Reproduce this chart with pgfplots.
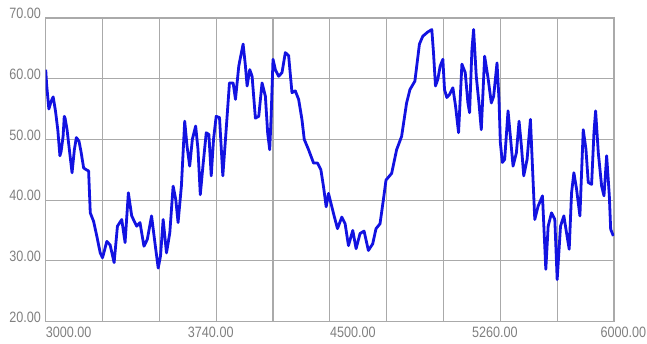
\documentclass[border=0pt]{standalone}
\usepackage{pgfplots}
\pgfplotsset{compat=1.18}
\usepackage{fontspec}
\setmainfont{Liberation Sans}[FakeStretch=0.84]
\definecolor{lineblue}{RGB}{18,18,225}
\definecolor{gridgray}{RGB}{170,170,170}
\definecolor{labgray}{RGB}{128,128,128}
\begin{document}
\begin{tikzpicture}
\begin{axis}[
  at={(0,0)}, anchor=south west,
  scale only axis, width=568.3pt, height=303.5pt,
  xmin=3000, xmax=6000, ymin=20, ymax=70,
  xtick={3000,3300,3600,3900,4200,4500,4800,5100,5400,5700,6000},
  xticklabels={},
  extra x ticks={3000,3750,4500,5250,6000},
  extra x tick labels={3000.00,3740.00,4500.00,5260.00,{\hspace{32pt}\makebox[0pt][r]{6000.00}}},
  extra x tick style={grid=none, major tick length=0pt},
  xmajorgrids, ymajorgrids,
  ytick={20,30,40,50,60,70},
  yticklabels={20.00,30.00,40.00,50.00,60.00,70.00},
  major tick length=0pt, minor tick length=0pt,
  axis line style={gridgray, line width=1.2pt},
  grid style={gridgray, line width=1.2pt},
  xticklabel style={anchor=north west, inner sep=0pt, yshift=-5pt, font=\fontsize{15}{18}\selectfont, text=labgray},
  yticklabel style={anchor=east, inner sep=0pt, xshift=-4.5pt, yshift=4.5pt, font=\fontsize{15}{18}\selectfont, text=labgray},
]
\addplot[lineblue, line width=2.8pt, line join=round, mark=none] coordinates {
(3000,61.5) (3005,59) (3016.6,55) (3028.9,56.3) (3039.4,57) (3051.6,54.7)
(3063.8,51.6) (3075,47.3) (3081.3,48) (3091.8,50.5) (3098,53.8) (3102.3,53.5)
(3112.8,51.6) (3126.8,47.8) (3139.1,44.5) (3151.3,48.3) (3161.8,50.3)
(3175.8,49.7) (3186.3,48) (3200.3,45.3) (3214.3,45) (3226.5,44.8)
(3235.3,37.9) (3252.8,36.5) (3270.3,34) (3287.8,31.3) (3300,30.5)
(3322.7,33.2) (3340.2,32.6) (3361.2,29.7) (3378.7,35.7) (3401.5,36.8)
(3419,33) (3436.4,41.2) (3453.9,37.4) (3480.2,35.7) (3497.7,36.3)
(3518.7,32.4) (3536.2,33.5) (3558.9,37.4) (3576.4,33) (3593.9,28.8)
(3606.1,30.8) (3620.1,36.8) (3637.6,31.3) (3655.1,34.6) (3672.6,42.3)
(3686.6,40.1) (3698.8,36.3) (3716.3,42.3) (3733.8,53) (3746.1,48.9)
(3760.1,45.6) (3774.1,50) (3791.6,52.2) (3803.8,48.4) (3816.1,40.9)
(3830,45.6) (3847.5,51.1) (3861.5,50.8) (3873.8,44) (3886,50) (3900,53.8)
(3917.5,53.6) (3935,44) (3949,50) (3970,59.3) (3989.5,59.3) (4001.8,56.6)
(4019.3,62.1) (4042.1,65.7) (4054.4,62.1) (4063.2,58.8) (4077.2,61.5)
(4089.5,60.4) (4107,53.5) (4124.6,53.8) (4142.1,59.3) (4159.7,57.1)
(4171.9,51) (4182.5,48.3) (4189.5,53.3) (4200,63.2) (4212.3,61.5)
(4229.8,60.4) (4247.4,61) (4264.9,64.3) (4282.4,63.8) (4300,57.7)
(4317.5,58) (4335.1,56.6) (4352.6,53.3) (4364.9,50) (4387.7,48.3)
(4414,46.1) (4435,46.1) (4452.6,45) (4466.6,42.2) (4480.6,38.9)
(4492.9,41.1) (4501.7,40) (4519.2,37.8) (4540.3,35.3) (4563.1,37.2)
(4580.6,36.1) (4598.2,32.5) (4621,35) (4638.5,32) (4659.5,34.5)
(4680.6,34.9) (4703.4,31.7) (4726.2,32.8) (4743.7,35.3) (4764.8,36.1)
(4782.3,40) (4796.4,43.3) (4826.2,44.4) (4852.5,48.3) (4878.8,50.5)
(4905.1,56) (4922.6,58.2) (4948.9,59.6) (4972.9,65.7) (4990.6,67)
(5017.1,67.7) (5038.2,68.1) (5047.1,64.3) (5057.6,58.8) (5070,59.9)
(5082.4,62.1) (5096.5,63.2) (5105.3,58.2) (5117.6,56.9) (5131.8,57.4)
(5149.4,58.5) (5163.5,55.5) (5179.4,51.1) (5197.1,62.4) (5214.7,61)
(5228.8,56) (5237.6,54.4) (5250,64.8) (5258.8,68.1) (5272.9,60.4)
(5287.1,56) (5299.4,51.6) (5317.1,63.7) (5334.7,60.2) (5352.4,56)
(5364.7,57.1) (5382.4,62.6) (5392.9,56.6) (5400,49.5) (5410.6,46.2)
(5422.9,46.7) (5440.6,54.7) (5452.9,50.5) (5467.1,45.6) (5484.7,47.8)
(5498.8,53) (5511.2,48.9) (5523.5,44) (5541.2,46.7) (5558.8,53.3)
(5569.4,45.6) (5581.8,36.8) (5599.4,39) (5622.4,40.7) (5640,28.6)
(5652.4,35.7) (5670,37.9) (5687.6,36.8) (5700,26.9) (5717.6,35.7)
(5735.3,37.4) (5749.4,34.6) (5763.5,31.9) (5775.9,41.2) (5788.2,44.5)
(5802.4,41.8) (5820,37.4) (5837.6,51.6) (5851.8,48.4) (5864.1,42.9)
(5881.8,42.6) (5894.1,51.1) (5902.9,54.7) (5917.1,47.8) (5934.7,42.3)
(5947.1,40.7) (5961.2,47.3) (5975.3,40.7) (5982.4,35.2) (5996.5,34.1)
};
\end{axis}
\pgfresetboundingbox
\path (-45.7pt,-21.5pt) rectangle (601.3pt,321.5pt);
\end{tikzpicture}
\end{document}
